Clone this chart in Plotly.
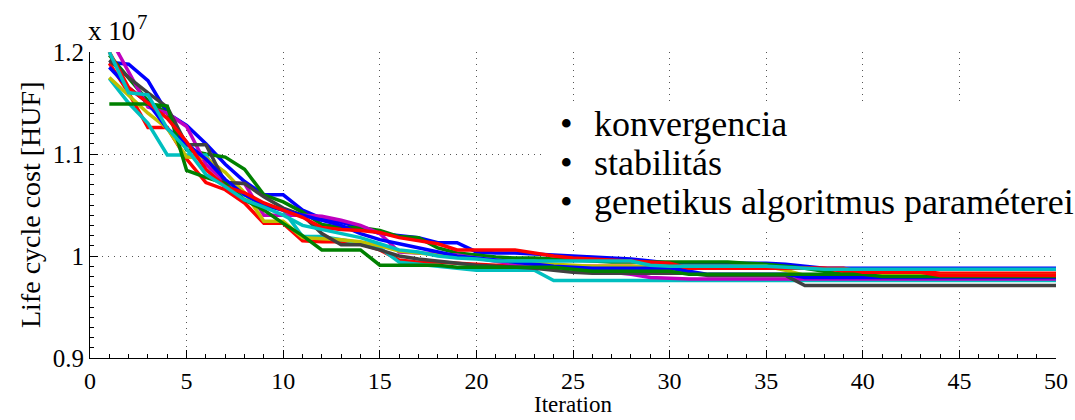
import plotly.graph_objects as go

iterations = list(range(1, 51))

# Best life cycle cost per run (x 1e7 HUF)
run_b1 = [1.190, 1.188, 1.172, 1.140, 1.128, 1.110, 1.090, 1.073, 1.060, 1.060,
          1.045, 1.037, 1.033, 1.028, 1.022, 1.020, 1.018, 1.013, 1.013, 1.004,
          1.003, 1.003, 1.002, 1.001, 1.000, 0.999, 0.998, 0.997, 0.995, 0.993,
          0.993, 0.993, 0.993, 0.993, 0.993, 0.992, 0.990, 0.988, 0.988, 0.988,
          0.988, 0.988, 0.988, 0.988, 0.988, 0.988, 0.988, 0.988, 0.988, 0.988]
run_g1 = [1.197, 1.175, 1.152, 1.140, 1.104, 1.100, 1.097, 1.085, 1.060, 1.053,
          1.043, 1.031, 1.028, 1.028, 1.025, 1.019, 1.018, 1.008, 1.003, 1.001,
          0.999, 0.998, 0.998, 0.997, 0.996, 0.995, 0.994, 0.994, 0.994, 0.994,
          0.994, 0.994, 0.994, 0.993, 0.992, 0.990, 0.988, 0.985, 0.982, 0.982,
          0.982, 0.982, 0.982, 0.982, 0.982, 0.982, 0.982, 0.982, 0.982, 0.981]
run_r1 = [1.189, 1.160, 1.126, 1.126, 1.095, 1.072, 1.065, 1.052, 1.032, 1.032,
          1.015, 1.014, 1.014, 1.012, 1.006, 0.996, 0.994, 0.994, 0.993, 0.992,
          0.991, 0.991, 0.991, 0.991, 0.990, 0.990, 0.990, 0.990, 0.989, 0.988,
          0.988, 0.988, 0.988, 0.988, 0.988, 0.988, 0.988, 0.988, 0.985, 0.985,
          0.985, 0.985, 0.985, 0.983, 0.983, 0.983, 0.983, 0.983, 0.983, 0.983]
run_c1 = [1.174, 1.150, 1.130, 1.099, 1.099, 1.099, 1.068, 1.060, 1.050, 1.045,
          1.019, 1.019, 1.016, 1.013, 1.008, 0.994, 0.992, 0.990, 0.988, 0.986,
          0.986, 0.986, 0.986, 0.976, 0.976, 0.976, 0.976, 0.976, 0.976, 0.976,
          0.976, 0.976, 0.976, 0.976, 0.976, 0.976, 0.976, 0.976, 0.976, 0.976,
          0.976, 0.976, 0.976, 0.976, 0.976, 0.976, 0.976, 0.976, 0.976, 0.976]
run_m = [1.215, 1.180, 1.146, 1.140, 1.127, 1.090, 1.072, 1.071, 1.040, 1.040,
         1.040, 1.039, 1.035, 1.030, 1.022, 1.004, 1.003, 1.002, 1.001, 0.998,
         0.995, 0.992, 0.990, 0.989, 0.988, 0.986, 0.984, 0.982, 0.979, 0.978,
         0.9775, 0.9775, 0.9775, 0.9775, 0.9775, 0.9775, 0.9775, 0.9775, 0.9775, 0.9775,
         0.9775, 0.9775, 0.9775, 0.9775, 0.9775, 0.9775, 0.9775, 0.9775, 0.9775, 0.9775]
run_y = [1.175, 1.158, 1.140, 1.125, 1.097, 1.096, 1.082, 1.062, 1.034, 1.034,
         1.018, 1.017, 1.016, 1.014, 1.010, 1.005, 1.003, 1.001, 1.000, 0.998,
         0.996, 0.994, 0.993, 0.992, 0.991, 0.990, 0.990, 0.990, 0.990, 0.990,
         0.990, 0.990, 0.990, 0.990, 0.990, 0.986, 0.981, 0.981, 0.981, 0.981,
         0.981, 0.981, 0.981, 0.981, 0.981, 0.981, 0.981, 0.981, 0.981, 0.981]
run_k = [1.192, 1.175, 1.160, 1.146, 1.109, 1.109, 1.072, 1.071, 1.058, 1.047,
         1.040, 1.022, 1.011, 1.011, 1.006, 1.000, 0.997, 0.995, 0.993, 0.991,
         0.990, 0.989, 0.988, 0.986, 0.984, 0.983, 0.983, 0.983, 0.983, 0.983,
         0.983, 0.981, 0.981, 0.981, 0.981, 0.981, 0.971, 0.971, 0.971, 0.971,
         0.971, 0.971, 0.971, 0.971, 0.971, 0.971, 0.971, 0.971, 0.971, 0.971]
run_b2 = [1.185, 1.165, 1.150, 1.125, 1.110, 1.095, 1.075, 1.060, 1.050, 1.045,
          1.040, 1.035, 1.030, 1.022, 1.016, 1.012, 1.008, 1.004, 1.000, 0.998,
          0.996, 0.994, 0.992, 0.990, 0.989, 0.988, 0.988, 0.988, 0.988, 0.988,
          0.985, 0.982, 0.982, 0.982, 0.982, 0.982, 0.979, 0.979, 0.979, 0.979,
          0.979, 0.979, 0.979, 0.979, 0.979, 0.979, 0.979, 0.979, 0.979, 0.979]
run_g2 = [1.149, 1.149, 1.149, 1.147, 1.084, 1.077, 1.071, 1.055, 1.045, 1.032,
          1.020, 1.006, 1.006, 1.006, 0.991, 0.991, 0.991, 0.991, 0.989, 0.989,
          0.989, 0.989, 0.989, 0.989, 0.987, 0.985, 0.985, 0.985, 0.985, 0.985,
          0.982, 0.982, 0.982, 0.982, 0.982, 0.982, 0.982, 0.982, 0.982, 0.982,
          0.980, 0.980, 0.980, 0.980, 0.980, 0.980, 0.980, 0.980, 0.980, 0.980]
run_r2 = [1.200, 1.165, 1.150, 1.135, 1.112, 1.085, 1.068, 1.062, 1.052, 1.045,
          1.038, 1.028, 1.026, 1.025, 1.023, 1.018, 1.015, 1.012, 1.006, 1.006,
          1.006, 1.006, 1.003, 1.000, 0.998, 0.997, 0.996, 0.995, 0.994, 0.993,
          0.988, 0.988, 0.988, 0.988, 0.988, 0.988, 0.988, 0.988, 0.988, 0.984,
          0.984, 0.984, 0.984, 0.981, 0.981, 0.981, 0.981, 0.981, 0.981, 0.981]
run_c2 = [1.200, 1.160, 1.158, 1.125, 1.105, 1.080, 1.068, 1.055, 1.048, 1.040,
          1.030, 1.026, 1.022, 1.018, 1.012, 1.006, 1.004, 1.000, 0.998, 0.997,
          0.995, 0.995, 0.995, 0.995, 0.995, 0.995, 0.995, 0.995, 0.991, 0.990,
          0.990, 0.990, 0.990, 0.990, 0.990, 0.989, 0.988, 0.987, 0.987, 0.987,
          0.987, 0.987, 0.987, 0.987, 0.987, 0.987, 0.987, 0.987, 0.987, 0.987]

runs = [run_b1, run_g1, run_r1, run_c1, run_m, run_y, run_k, run_b2, run_g2, run_r2, run_c2]
colors = ["#0000ff", "#008000", "#ff0000", "#00bfbf", "#bf00bf", "#bfbf00", "#404040",
          "#0000ff", "#008000", "#ff0000", "#00bfbf"]

bullet_items = ["konvergencia", "stabilitás", "genetikus algoritmus paraméterei"]
x_title = "Iteration"
y_title = "Life cycle cost [HUF]"

x_ticks = [0, 5, 10, 15, 20, 25, 30, 35, 40, 45, 50]
y_ticks = [0.9, 1.0, 1.1, 1.2]
y_ticktext = ["0.9", "1", "1.1", "1.2"]

fig = go.Figure()
for vals, col in zip(runs, colors):
    fig.add_trace(go.Scatter(x=iterations, y=vals, mode="lines",
                             line=dict(color=col, width=3.5), showlegend=False))

FONT = "Liberation Serif, Times New Roman, serif"
fig.update_layout(
    width=1075, height=420,
    margin=dict(l=90, r=19, t=52, b=62, autoexpand=False),
    paper_bgcolor="white", plot_bgcolor="white",
    font=dict(family=FONT, color="black", size=24),
)
fig.update_xaxes(
    range=[0, 50], tickvals=x_ticks, ticks="inside", ticklen=8, tickcolor="black",
    showline=True, linecolor="black", linewidth=1, mirror=False, automargin=False,
    showgrid=True, gridcolor="#555555", griddash="1px,5px", gridwidth=1,
    zeroline=False, tickfont=dict(size=24, family=FONT, color="black"),
    ticklabelstandoff=1,
    minor=dict(ticks="inside", ticklen=4, dtick=1, tickcolor="black", showgrid=False),
)
fig.update_yaxes(
    range=[0.9, 1.2], tickvals=y_ticks, ticktext=y_ticktext, ticks="inside", ticklen=8,
    tickcolor="black", showline=True, linecolor="black", linewidth=1, mirror=False,
    automargin=False,
    showgrid=True, gridcolor="#555555", griddash="1px,5px", gridwidth=1,
    zeroline=False, tickfont=dict(size=25, family=FONT, color="black"),
    minor=dict(ticks="inside", ticklen=4, dtick=0.01, tickcolor="black", showgrid=False),
)

def px_x(px):
    return (px - 90) / 966.0

def px_y(py):
    return (358 - py) / 306.0

# axis titles
fig.add_annotation(xref="paper", yref="paper", x=px_x(573), y=px_y(404),
                   xanchor="center", yanchor="middle", showarrow=False,
                   text=x_title, font=dict(size=23, family=FONT, color="black"))
fig.add_annotation(xref="paper", yref="paper", x=px_x(30), y=px_y(205),
                   xanchor="center", yanchor="middle", showarrow=False, textangle=-90,
                   text=y_title, font=dict(size=28, family=FONT, color="black"))

# exponent label
fig.add_annotation(xref="paper", yref="paper", x=0, y=1, xshift=-4, yshift=4,
                   xanchor="left", yanchor="bottom", showarrow=False,
                   text="x 10", font=dict(size=27, family=FONT, color="black"))
fig.add_annotation(xref="paper", yref="paper", x=0, y=1, xshift=45, yshift=16,
                   xanchor="left", yanchor="bottom", showarrow=False,
                   text="7", font=dict(size=21, family=FONT, color="black"))

# white text box with bullet list
fig.add_shape(type="rect", xref="paper", yref="paper",
              x0=px_x(545), x1=px_x(1075), y0=px_y(228), y1=px_y(106),
              fillcolor="white", line=dict(width=0), layer="above")
row_y = [124, 163, 202]
for txt, ry in zip(bullet_items, row_y):
    fig.add_annotation(xref="paper", yref="paper", x=px_x(566), y=px_y(ry),
                       xanchor="center", yanchor="middle", showarrow=False,
                       text="•", font=dict(size=36, family=FONT, color="black"))
    fig.add_annotation(xref="paper", yref="paper", x=px_x(592), y=px_y(ry),
                       xanchor="left", yanchor="middle", showarrow=False,
                       text=txt, font=dict(size=36, family=FONT, color="black"))

fig.write_html("out.html")
